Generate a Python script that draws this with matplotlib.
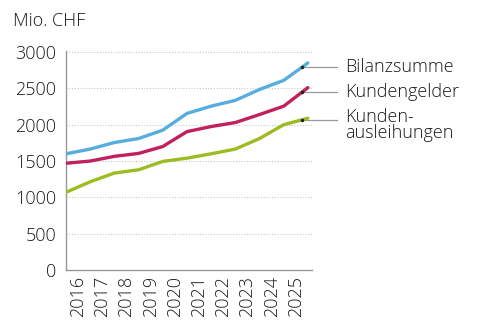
import numpy as np
import matplotlib
matplotlib.use("Agg")
import matplotlib.pyplot as plt

plt.rcParams['font.family'] = ['Open Sans', 'DejaVu Sans']
plt.rcParams['font.weight'] = 'light'

# year-end values, Mio. CHF
points = [2015, 2016, 2017, 2018, 2019, 2020, 2021, 2022, 2023, 2024, 2025]
bilanzsumme = [1600, 1665, 1755, 1810, 1925, 2155, 2255, 2335, 2485, 2610, 2850]
kundengelder = [1470, 1500, 1565, 1605, 1700, 1905, 1975, 2030, 2140, 2255, 2510]
ausleihungen = [1070, 1215, 1335, 1380, 1495, 1540, 1600, 1665, 1810, 2000, 2090]
year_labels = ['2016', '2017', '2018', '2019', '2020', '2021', '2022', '2023', '2024', '2025']
series_names = ['Bilanzsumme', 'Kundengelder', 'Kunden-\nausleihungen']
colors = ['#57addd', '#c2205c', '#9cbc22']

fig = plt.figure(figsize=(4.8, 3.31), dpi=100)
ax = fig.add_axes([0.1375, 0.184, 0.5125, 0.661])

series = [bilanzsumme, kundengelder, ausleihungen]
for vals, col in zip(series, colors):
    ax.plot(points, vals, color=col, lw=2.4, solid_capstyle='round', solid_joinstyle='round', zorder=3)

ax.set_xlim(2015, 2025.17)
ax.set_ylim(0, 3010)
ax.set_yticks([0, 500, 1000, 1500, 2000, 2500, 3000])
ax.set_xticks(np.arange(2015.5, 2025, 1))
ax.set_xticklabels(year_labels, rotation=90)
ax.tick_params(axis='both', length=0, labelsize=13, colors='#1a1a1a')
ax.tick_params(axis='x', pad=4)
ax.tick_params(axis='y', pad=7)

for y in [500, 1000, 1500, 2000, 2500, 3000]:
    ax.axhline(y, color='#c8c8c8', lw=0.8, ls=(0, (1, 1.5)), zorder=1)

for side in ['top', 'right']:
    ax.spines[side].set_visible(False)
for side in ['left', 'bottom']:
    ax.spines[side].set_color('#999999')
    ax.spines[side].set_linewidth(1)

# leader lines and labels
x_dot = 2024.75
x_end = 2026.2
x_txt = 2026.55
for vals, name in zip(series, series_names):
    y_dot = np.interp(x_dot, points, vals)
    ax.plot([x_dot, x_end], [y_dot, y_dot], color='#999999', lw=0.9, clip_on=False, zorder=2)
    ax.plot([x_dot], [y_dot], marker='o', ms=1.5, color='#222222', zorder=4)
    if '\n' in name:
        ax.text(x_txt, y_dot + 160, name, fontsize=13, va='top', ha='left',
                linespacing=0.85, color='#1a1a1a', clip_on=False)
    else:
        ax.text(x_txt, y_dot, name, fontsize=13, va='center', ha='left',
                color='#1a1a1a', clip_on=False)

fig.text(0.027, 0.92, 'Mio. CHF', fontsize=13, color='#1a1a1a', va='baseline', ha='left')

fig.savefig('out.png', dpi=100)
